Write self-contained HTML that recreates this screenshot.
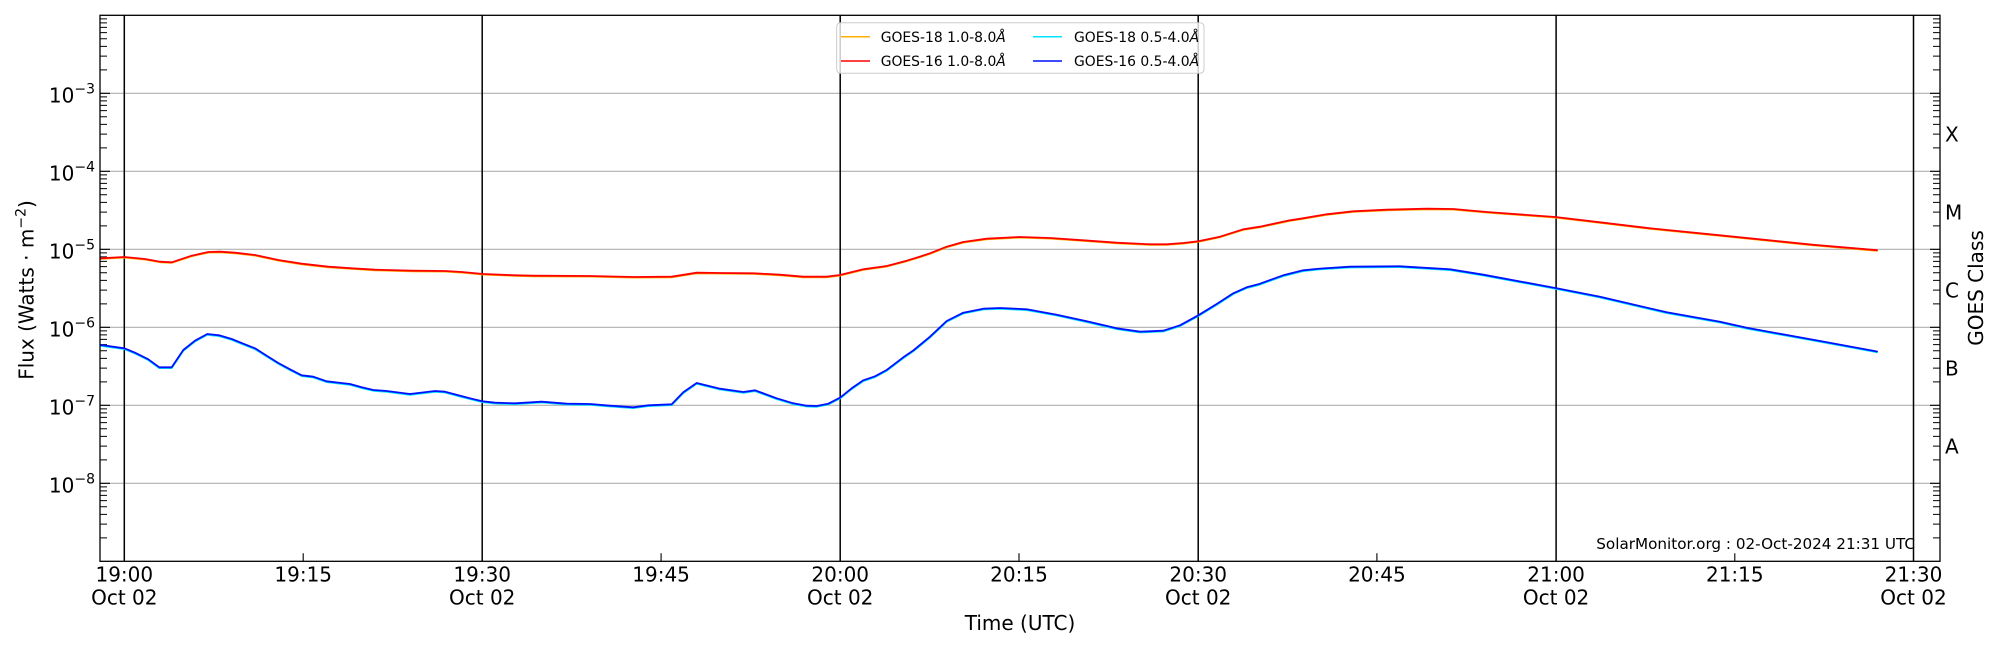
<!DOCTYPE html>
<html>
<head>
<meta charset="utf-8">
<style>
  html, body { margin: 0; padding: 0; background: #ffffff; }
  svg { display: block; }
  text { font-family: "DejaVu Sans", "Liberation Sans", sans-serif; fill: #000; }
</style>
</head>
<body>
<svg width="2000" height="650" viewBox="0 0 2000 650" xmlns="http://www.w3.org/2000/svg">
  <defs>
    <clipPath id="ax"><rect x="100" y="15.3" width="1840" height="546"/></clipPath>
    <g id="decL">
      <path d="M0,-23.48h7M0,-37.22h7M0,-46.96h7M0,-54.52h7M0,-60.70h7M0,-65.92h7M0,-70.44h7M0,-74.43h7" stroke="#000" stroke-width="1" fill="none"/>
    </g>
  </defs>
  <rect x="0" y="0" width="2000" height="650" fill="#fff"/>

  <!-- horizontal grid lines (decades) -->
  <g stroke="#b0b0b0" stroke-width="1.1">
    <line x1="100" y1="93.3" x2="1940" y2="93.3"/>
    <line x1="100" y1="171.3" x2="1940" y2="171.3"/>
    <line x1="100" y1="249.3" x2="1940" y2="249.3"/>
    <line x1="100" y1="327.3" x2="1940" y2="327.3"/>
    <line x1="100" y1="405.3" x2="1940" y2="405.3"/>
    <line x1="100" y1="483.3" x2="1940" y2="483.3"/>
  </g>

  <!-- minor ticks left & right -->
  <g>
    <use href="#decL" transform="translate(100,561.3)"/>
    <use href="#decL" transform="translate(100,483.3)"/>
    <use href="#decL" transform="translate(100,405.3)"/>
    <use href="#decL" transform="translate(100,327.3)"/>
    <use href="#decL" transform="translate(100,249.3)"/>
    <use href="#decL" transform="translate(100,171.3)"/>
    <use href="#decL" transform="translate(100,93.3)"/>
    <use href="#decL" transform="translate(1933,561.3)"/>
    <use href="#decL" transform="translate(1933,483.3)"/>
    <use href="#decL" transform="translate(1933,405.3)"/>
    <use href="#decL" transform="translate(1933,327.3)"/>
    <use href="#decL" transform="translate(1933,249.3)"/>
    <use href="#decL" transform="translate(1933,171.3)"/>
    <use href="#decL" transform="translate(1933,93.3)"/>
  </g>
  <!-- major ticks -->
  <g stroke="#000" stroke-width="1.1">
    <path d="M100,93.3h10M100,171.3h10M100,249.3h10M100,327.3h10M100,405.3h10M100,483.3h10"/>
    <path d="M1930,93.3h10M1930,171.3h10M1930,249.3h10M1930,327.3h10M1930,405.3h10M1930,483.3h10"/>
    <path d="M303.2,561.3v-8M661.1,561.3v-8M1019,561.3v-8M1376.9,561.3v-8M1734.8,561.3v-8"/>
  </g>

  <!-- vertical black lines every 30 min -->
  <g stroke="#000" stroke-width="1.5">
    <line x1="124.3" y1="15.3" x2="124.3" y2="561.3"/>
    <line x1="482.2" y1="15.3" x2="482.2" y2="561.3"/>
    <line x1="840.2" y1="15.3" x2="840.2" y2="561.3"/>
    <line x1="1198.2" y1="15.3" x2="1198.2" y2="561.3"/>
    <line x1="1556.1" y1="15.3" x2="1556.1" y2="561.3"/>
    <line x1="1913.5" y1="15.3" x2="1913.5" y2="561.3"/>
  </g>

  <!-- data series -->
  <g clip-path="url(#ax)" fill="none" stroke-width="1.8" stroke-linejoin="round" stroke-linecap="round">
    <polyline transform="translate(0,0.6)" stroke="#ffb000" points="101,258.3 124.3,257 145,259 160,261.7 171.7,262.3 191.7,255.7 208.3,252 220,251.7 235,252.7 255,255 278.3,260 301.7,263.7 328.3,266.7 351.7,268.3 375,269.7 411.7,270.7 445,271 461.7,272 483.3,274 515,275.3 533.3,275.7 590,276 633.3,277 671.7,276.7 696.7,272.7 720,273 753.3,273.3 780,274.7 803.3,276.7 826.7,276.7 840,275 863.3,269.3 886.7,266 906.7,260.7 920,256.6 930,253.3 946.7,246.7 963.3,242 986.7,238.7 1020,237 1050,238 1083.3,240.3 1116.7,242.7 1150,244.3 1166.7,244.3 1183.3,243 1198.3,241.3 1220,236.7 1243.3,229.3 1260,226.7 1290,220.3 1300,218.8 1326.7,214.3 1353.3,211.3 1386.7,209.7 1426.7,208.7 1453.3,209 1486.7,212 1555.3,217 1600,222.3 1650,228.3 1720,235.3 1813.3,244.8 1877,250.2"/>
    <polyline stroke="#ff0000" points="101,258.3 124.3,257 145,259 160,261.7 171.7,262.3 191.7,255.7 208.3,252 220,251.7 235,252.7 255,255 278.3,260 301.7,263.7 328.3,266.7 351.7,268.3 375,269.7 411.7,270.7 445,271 461.7,272 483.3,274 515,275.3 533.3,275.7 590,276 633.3,277 671.7,276.7 696.7,272.7 720,273 753.3,273.3 780,274.7 803.3,276.7 826.7,276.7 840,275 863.3,269.3 886.7,266 906.7,260.7 920,256.6 930,253.3 946.7,246.7 963.3,242 986.7,238.7 1020,237 1050,238 1083.3,240.3 1116.7,242.7 1150,244.3 1166.7,244.3 1183.3,243 1198.3,241.3 1220,236.7 1243.3,229.3 1260,226.7 1290,220.3 1300,218.8 1326.7,214.3 1353.3,211.3 1386.7,209.7 1426.7,208.7 1453.3,209 1486.7,212 1555.3,217 1600,222.3 1650,228.3 1720,235.3 1813.3,244.8 1877,250.2"/>
    <polyline transform="translate(0,0.8)" stroke="#00e5ff" points="101,345 124.3,348.3 135,352.7 148.3,359.3 159.3,367.3 171.7,367.3 183.3,350 195,340.7 207.3,334 219,335.3 231.7,339 243.3,343.7 255,348.3 266.7,355.7 278.3,363 290,369.3 301.7,375.3 313.3,376.7 326.7,381.3 350,384 361.7,387.3 373.3,390 386.7,391 410,394 435,391 445,391.7 458.3,395.3 471.7,398.7 482.3,401.3 495,402.7 515,403.3 541.7,401.7 566.7,403.7 590,404 610,405.7 633.3,407.3 648.3,405.3 671.7,404.3 683.3,392.3 696.7,383 720,388.7 743.3,392 755,390.3 776.7,398.3 793.3,403.3 806.7,405.7 816.7,406 828.3,403.7 840,397.7 851.7,388.3 863.3,380.3 875,376.3 886.7,370 903.3,357.3 913.3,350.5 930,336.7 946.7,321 963.3,312.7 983.3,308.7 1000,308 1026.7,309.3 1056.7,314.7 1086.7,321.3 1116.7,328.3 1140,331.7 1163.3,330.7 1180,325.3 1198.3,315.3 1216.7,304 1233.3,293.3 1246.7,287.3 1258.3,284.3 1283.3,275.3 1303.3,270.3 1320,268.6 1350,266.7 1400,266.3 1450,269.3 1483.3,274.7 1555.3,288 1600,296.7 1666.7,312.3 1720,321.7 1746.7,327.8 1820,341 1877,351.5"/>
    <polyline stroke="#0010ff" points="101,345 124.3,348.3 135,352.7 148.3,359.3 159.3,367.3 171.7,367.3 183.3,350 195,340.7 207.3,334 219,335.3 231.7,339 243.3,343.7 255,348.3 266.7,355.7 278.3,363 290,369.3 301.7,375.3 313.3,376.7 326.7,381.3 350,384 361.7,387.3 373.3,390 386.7,391 410,394 435,391 445,391.7 458.3,395.3 471.7,398.7 482.3,401.3 495,402.7 515,403.3 541.7,401.7 566.7,403.7 590,404 610,405.7 633.3,407.3 648.3,405.3 671.7,404.3 683.3,392.3 696.7,383 720,388.7 743.3,392 755,390.3 776.7,398.3 793.3,403.3 806.7,405.7 816.7,406 828.3,403.7 840,397.7 851.7,388.3 863.3,380.3 875,376.3 886.7,370 903.3,357.3 913.3,350.5 930,336.7 946.7,321 963.3,312.7 983.3,308.7 1000,308 1026.7,309.3 1056.7,314.7 1086.7,321.3 1116.7,328.3 1140,331.7 1163.3,330.7 1180,325.3 1198.3,315.3 1216.7,304 1233.3,293.3 1246.7,287.3 1258.3,284.3 1283.3,275.3 1303.3,270.3 1320,268.6 1350,266.7 1400,266.3 1450,269.3 1483.3,274.7 1555.3,288 1600,296.7 1666.7,312.3 1720,321.7 1746.7,327.8 1820,341 1877,351.5"/>
  </g>

  <!-- axes frame -->
  <rect x="100" y="15.3" width="1840" height="546" fill="none" stroke="#000" stroke-width="1.3"/>

  <!-- legend -->
  <rect x="836.7" y="22.7" width="367.3" height="50.6" rx="4" ry="4" fill="#ffffff" fill-opacity="0.8" stroke="#cccccc" stroke-width="1"/>
  <g stroke-width="1.5">
    <line x1="841" y1="36.7" x2="870" y2="36.7" stroke="#ffb000"/>
    <line x1="841" y1="61" x2="870" y2="61" stroke="#ff0000"/>
    <line x1="1033" y1="36.7" x2="1062" y2="36.7" stroke="#00e5ff"/>
    <line x1="1033" y1="61" x2="1062" y2="61" stroke="#0010ff"/>
  </g>
  <g font-size="13.9">
    <text x="880.7" y="42">GOES-18 1.0-8.0<tspan font-style="italic">Å</tspan></text>
    <text x="880.7" y="66">GOES-16 1.0-8.0<tspan font-style="italic">Å</tspan></text>
    <text x="1074" y="42">GOES-18 0.5-4.0<tspan font-style="italic">Å</tspan></text>
    <text x="1074" y="66">GOES-16 0.5-4.0<tspan font-style="italic">Å</tspan></text>
  </g>

  <!-- y tick labels -->
  <g font-size="20" text-anchor="end">
    <text x="95" y="102.3">10<tspan font-size="14" dy="-9">−3</tspan></text>
    <text x="95" y="180.3">10<tspan font-size="14" dy="-9">−4</tspan></text>
    <text x="95" y="258.3">10<tspan font-size="14" dy="-9">−5</tspan></text>
    <text x="95" y="336.3">10<tspan font-size="14" dy="-9">−6</tspan></text>
    <text x="95" y="414.3">10<tspan font-size="14" dy="-9">−7</tspan></text>
    <text x="95" y="492.3">10<tspan font-size="14" dy="-9">−8</tspan></text>
  </g>

  <!-- y axis label -->
  <text font-size="20" text-anchor="middle" transform="translate(33.5,290) rotate(-90)">Flux (Watts · m<tspan font-size="14" dy="-8">−2</tspan><tspan dy="8">)</tspan></text>

  <!-- GOES class letters -->
  <g font-size="20">
    <text x="1945" y="141.7">X</text>
    <text x="1945" y="219.7">M</text>
    <text x="1945" y="297.7">C</text>
    <text x="1945" y="375.7">B</text>
    <text x="1945" y="453.7">A</text>
  </g>
  <text font-size="20" text-anchor="middle" transform="translate(1983,288) rotate(-90)">GOES Class</text>

  <!-- x tick labels -->
  <g font-size="20" text-anchor="middle">
    <text x="124.3" y="581.7">19:00</text>
    <text x="124.3" y="604.3">Oct 02</text>
    <text x="303.2" y="581.7">19:15</text>
    <text x="482.2" y="581.7">19:30</text>
    <text x="482.2" y="604.3">Oct 02</text>
    <text x="661.1" y="581.7">19:45</text>
    <text x="840.2" y="581.7">20:00</text>
    <text x="840.2" y="604.3">Oct 02</text>
    <text x="1019" y="581.7">20:15</text>
    <text x="1198.2" y="581.7">20:30</text>
    <text x="1198.2" y="604.3">Oct 02</text>
    <text x="1376.9" y="581.7">20:45</text>
    <text x="1556.1" y="581.7">21:00</text>
    <text x="1556.1" y="604.3">Oct 02</text>
    <text x="1734.8" y="581.7">21:15</text>
    <text x="1913.5" y="581.7">21:30</text>
    <text x="1913.5" y="604.3">Oct 02</text>
  </g>

  <!-- x axis label -->
  <text x="1020" y="630" font-size="20" text-anchor="middle">Time (UTC)</text>

  <!-- watermark -->
  <text x="1915" y="549" font-size="15.2" text-anchor="end">SolarMonitor.org : 02-Oct-2024 21:31 UTC</text>
</svg>
</body>
</html>
